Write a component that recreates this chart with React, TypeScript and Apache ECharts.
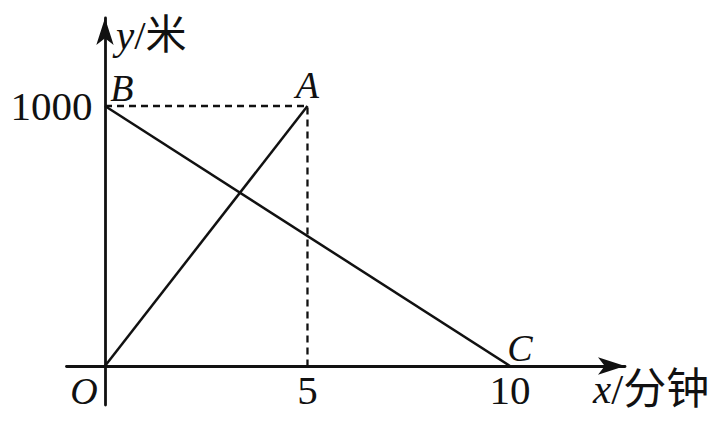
import { useEffect, useRef } from 'react';
import * as echarts from 'echarts';

// labelled points of the figure
const pointNames = ['O', 'A', 'B', 'C'];
const pointX = [0, 5, 0, 10];
const pointY = [0, 1000, 1000, 0];

// dashed helper line B -> A -> foot of A
const dashX = [0, 5, 5];
const dashY = [1000, 1000, 0];

const xTicks = [5, 10];
const yTicks = [1000];

const serif = '"Liberation Serif", "Times New Roman", serif';
const mixed = '"Liberation Serif", "Noto Sans CJK SC", serif';
const ink = '#111';

// label offsets (px) around each point
const labelOffset: Record<string, number[]> = {
  O: [-21, 25],
  A: [0, -21],
  B: [17, -18],
  C: [10, -18],
};

const pt = (name: string) => {
  const i = pointNames.indexOf(name);
  return [pointX[i], pointY[i]];
};

export default function App() {
  const divRef = useRef<HTMLDivElement | null>(null);

  useEffect(() => {
    if (!divRef.current) return;
    const chart = echarts.init(divRef.current, null, { renderer: 'svg' });

    const axisLine = {
      onZero: true,
      symbol: ['none', 'arrow'],
      symbolSize: [13, 27],
      lineStyle: { color: ink, width: 2.8 },
    };
    const tickLabel = { fontFamily: serif, fontSize: 41, color: ink };

    chart.setOption({
      animation: false,
      backgroundColor: '#fff',
      grid: { left: 66.5, right: 100, top: 18, bottom: 16, outerBoundsMode: 'none' },
      xAxis: {
        type: 'value',
        min: -0.95,
        max: 12.84,
        axisLine,
        axisTick: { show: false },
        splitLine: { show: false },
        axisLabel: { ...tickLabel, customValues: xTicks, formatter: (v: number) => String(v), margin: -36 },
      },
      yAxis: {
        type: 'value',
        min: -150,
        max: 1338.5,
        axisLine,
        axisTick: { show: false },
        splitLine: { show: false },
        axisLabel: { ...tickLabel, customValues: yTicks, formatter: (v: number) => String(v), margin: -26 },
      },
      series: [
        {
          type: 'line',
          data: [pt('O'), pt('A')],
          symbol: 'none',
          lineStyle: { color: ink, width: 2.5 },
        },
        {
          type: 'line',
          data: [pt('B'), pt('C')],
          symbol: 'none',
          lineStyle: { color: ink, width: 2.5 },
        },
        {
          type: 'line',
          data: dashX.map((x, i) => [x, dashY[i]]),
          symbol: 'none',
          lineStyle: { color: ink, width: 2.3, type: [7, 5] },
        },
        {
          type: 'scatter',
          symbolSize: 0,
          itemStyle: { opacity: 1 },
          data: pointNames.map((n, i) => ({
            name: n,
            value: [pointX[i], pointY[i]],
            label: { offset: labelOffset[n] },
          })),
          label: {
            show: true,
            position: 'inside',
            formatter: '{b}',
            fontFamily: serif,
            fontStyle: 'italic',
            fontSize: 38,
            color: ink,
            opacity: 1,
            textBorderWidth: 0,
            align: 'center',
            verticalAlign: 'middle',
          },
        },
      ],
      graphic: [
        {
          type: 'text',
          x: 116,
          y: 35,
          style: {
            text: '{i|y}{n|/米}',
            verticalAlign: 'middle',
            rich: {
              i: { fontFamily: serif, fontStyle: 'italic', fontSize: 41, fill: ink },
              n: { fontFamily: mixed, fontSize: 41, fill: ink },
            },
          },
        },
        {
          type: 'text',
          x: 593,
          y: 389,
          style: {
            text: '{i|x}{n|/分钟}',
            verticalAlign: 'middle',
            rich: {
              i: { fontFamily: serif, fontStyle: 'italic', fontSize: 41, fill: ink },
              n: { fontFamily: mixed, fontSize: 43, fill: ink },
            },
          },
        },
      ],
    });

    return () => chart.dispose();
  }, []);

  return (
    <div
      ref={divRef}
      style={{ position: 'fixed', left: 0, top: 0, width: 725, height: 421, background: '#fff' }}
    />
  );
}
